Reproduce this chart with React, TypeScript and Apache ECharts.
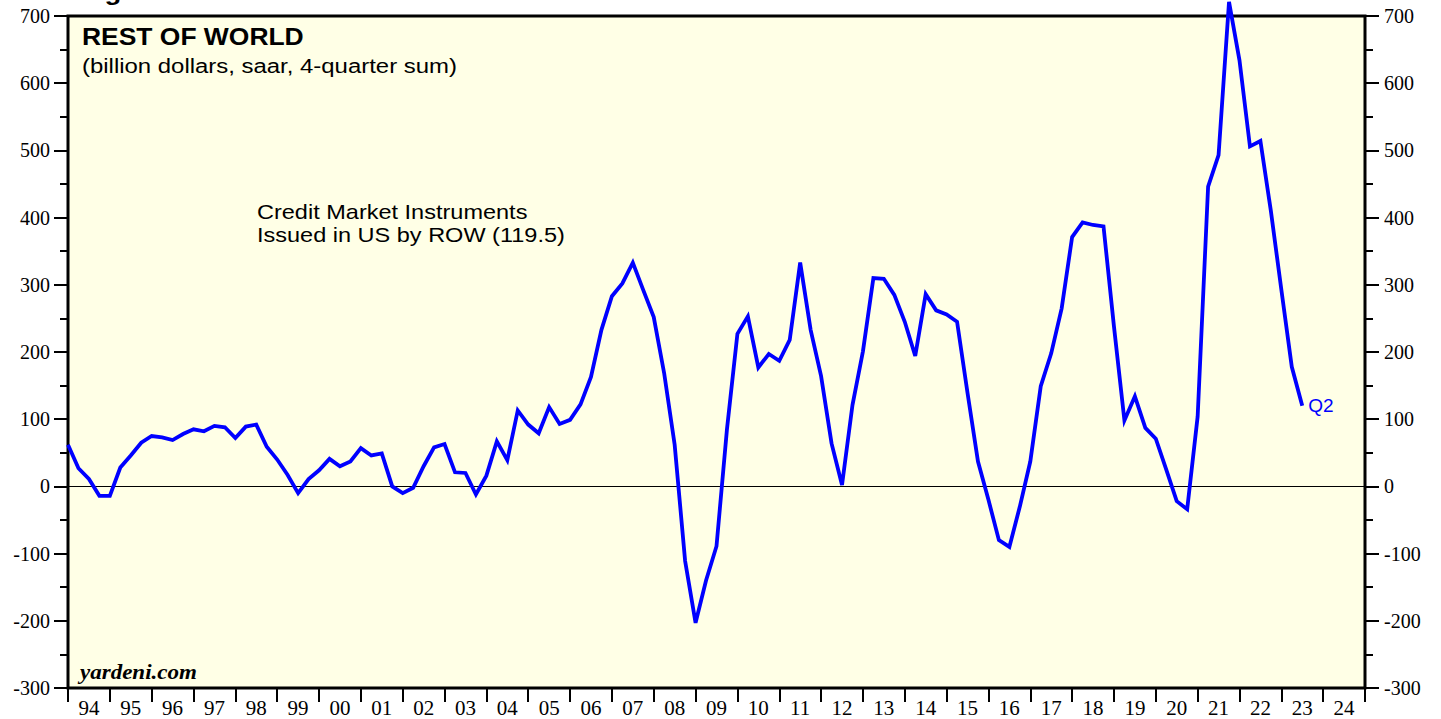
import React, { useEffect, useRef } from 'react';
import * as echarts from 'echarts';

// X axis: calendar years (tick labels), quarterly data plotted at quarter ends
const yearLabels = ['94', '95', '96', '97', '98', '99', '00', '01', '02', '03', '04', '05', '06', '07', '08', '09', '10', '11', '12', '13', '14', '15', '16', '17', '18', '19', '20', '21', '22', '23', '24'];
const firstYear = 1994;
const lastYear = 2025;
// first observation: 1993 Q4 (quarter end = 1994.0), last: 2023 Q2
const firstObservation = 1994.0;
const quartersPerYear = 4;

// Credit market instruments issued in US by rest of world (billion dollars, saar, 4-quarter sum)
const creditMarketROW = [
  62, 27, 11, -14, -14, 28, 46, 65, 75, 73, 69, 78, 85, 82, 90, 88,
  72, 89, 92, 59, 40, 17, -10, 11, 24, 41, 30, 37, 57, 46, 49, 0,
  -10, -2, 30, 58, 63, 21, 20, -12, 16, 67, 39, 113, 92, 79, 118, 93,
  99, 122, 163, 233, 283, 302, 333, 292, 252, 168, 62, -111, -203, -140,
  -89, 85, 227, 253, 177, 197, 187, 218, 333, 233, 164, 64, 2, 121,
  201, 310, 309, 285, 245, 194, 286, 262, 256, 245, 139, 37, -20, -80,
  -90, -30, 37, 149, 198, 265, 371, 393, 389, 387, 238, 98, 134, 87,
  71, 25, -22, -34, 104, 446, 493, 721, 634, 506, 514, 410, 293, 178, 120,
];

const yMin = -300;
const yMax = 700;
const yInterval = 100;

const titleText = 'REST OF WORLD';
const subtitleText = '(billion dollars, saar, 4-quarter sum)';
const seriesLine1 = 'Credit Market Instruments';
const seriesLine2 = 'Issued in US by ROW (119.5)';
const lastLabel = 'Q2';
const sourceText = 'yardeni.com';
const figureText = 'Figure';

export default function App() {
  const ref = useRef<HTMLDivElement>(null);

  useEffect(() => {
    document.body.style.margin = '0';
    if (!ref.current) return;
    const chart = echarts.init(ref.current, undefined, { renderer: 'svg' });

    const data = creditMarketROW.map((v, i) => [firstObservation + i / quartersPerYear, v]);

    const yAxisBase = (position: 'left' | 'right', margin: number) => ({
      type: 'value',
      position,
      min: yMin,
      max: yMax,
      interval: yInterval,
      axisLine: { show: false, onZero: false },
      axisTick: { show: true, inside: false, length: 14, lineStyle: { color: '#000', width: 2 } },
      minorTick: { show: true, splitNumber: 2, length: 8, lineStyle: { color: '#000', width: 2 } },
      axisLabel: { color: '#000', fontFamily: '"Liberation Serif", serif', fontSize: 20, margin },
      splitLine: { show: false },
      minorSplitLine: { show: false },
    });

    chart.setOption({
      animation: false,
      backgroundColor: '#ffffff',
      grid: {
        left: 68,
        right: 76,
        top: 16,
        bottom: 31,
        show: true,
        backgroundColor: '#FFFFE6',
        borderColor: '#000',
        borderWidth: 3,
      },
      xAxis: [
        {
          type: 'category',
          data: yearLabels,
          boundaryGap: true,
          position: 'bottom',
          axisLine: { show: false, onZero: false },
          axisTick: { show: true, inside: false, interval: 0, length: 14, lineStyle: { color: '#000', width: 2 } },
          axisLabel: { interval: 0, color: '#000', fontFamily: '"Liberation Serif", serif', fontSize: 21, margin: 9 },
          splitLine: { show: false },
        },
        {
          type: 'value',
          min: firstYear,
          max: lastYear,
          show: false,
          axisLine: { onZero: false },
          splitLine: { show: false },
        },
      ],
      yAxis: [yAxisBase('left', 18), yAxisBase('right', 19)],
      series: [
        {
          type: 'line',
          name: seriesLine1,
          xAxisIndex: 1,
          yAxisIndex: 0,
          data,
          symbol: 'none',
          clip: false,
          z: 5,
          lineStyle: { color: '#0000FF', width: 3.8, join: 'miter' },
          endLabel: {
            show: true,
            formatter: lastLabel,
            color: '#0000FF',
            fontFamily: '"Liberation Sans", Arial, sans-serif',
            fontSize: 19,
            distance: 6,
          },
          markLine: {
            silent: true,
            symbol: ['none', 'none'],
            label: { show: false },
            lineStyle: { color: '#000', width: 1.2, type: 'solid' },
            data: [{ yAxis: 0 }],
            z: 4,
          },
        },
      ],
      graphic: [
        {
          type: 'text', x: 80, y: 4, scaleX: 1.15, z: 10,
          style: { text: figureText, font: 'bold 24px "Liberation Sans"', fill: '#000', verticalAlign: 'bottom' },
        },
        {
          type: 'text', x: 82, y: 37, scaleX: 1.15, z: 10,
          style: { text: titleText, font: 'bold 23px "Liberation Sans"', fill: '#000', verticalAlign: 'middle' },
        },
        {
          type: 'text', x: 82, y: 66, scaleX: 1.14, z: 10,
          style: { text: subtitleText, font: '21px "Liberation Sans"', fill: '#000', verticalAlign: 'middle' },
        },
        {
          type: 'text', x: 257, y: 212, scaleX: 1.12, z: 10,
          style: { text: seriesLine1, font: '21px "Liberation Sans"', fill: '#000', verticalAlign: 'middle' },
        },
        {
          type: 'text', x: 257, y: 235, scaleX: 1.12, z: 10,
          style: { text: seriesLine2, font: '21px "Liberation Sans"', fill: '#000', verticalAlign: 'middle' },
        },
        {
          type: 'text', x: 80, y: 673, scaleX: 1.15, z: 10,
          style: { text: sourceText, font: 'italic bold 20px "Liberation Serif"', fill: '#000', verticalAlign: 'middle' },
        },
      ],
    });

    return () => chart.dispose();
  }, []);

  return (
    <div
      ref={ref}
      style={{ position: 'absolute', left: 0, top: 0, width: 1441, height: 719 }}
    />
  );
}
